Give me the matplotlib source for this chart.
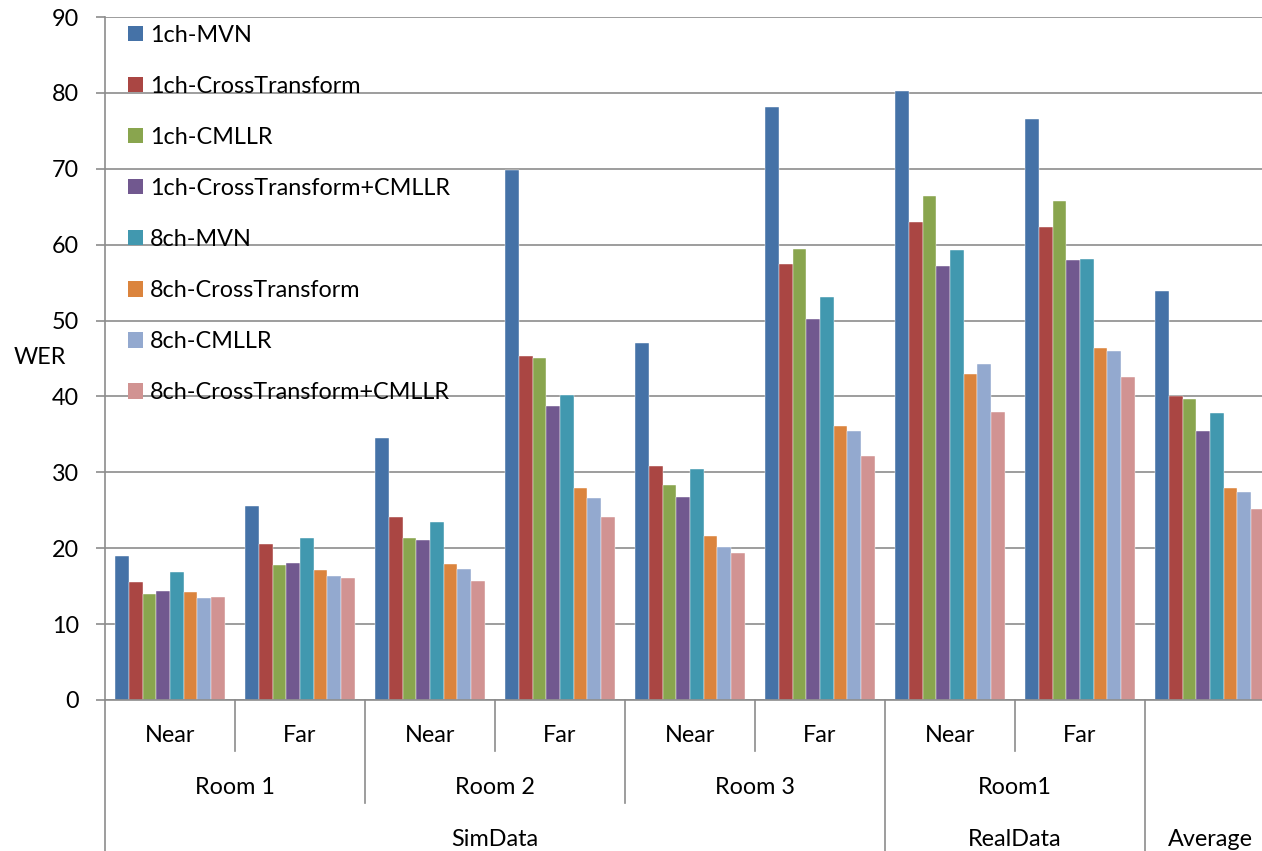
import numpy as np
import matplotlib
matplotlib.use("Agg")
import matplotlib.pyplot as plt
from matplotlib import transforms

plt.rcParams['font.family'] = ['Lato', 'DejaVu Sans']

# Word error rate per condition and method
conditions = ["SimData Room 1 Near", "SimData Room 1 Far",
              "SimData Room 2 Near", "SimData Room 2 Far",
              "SimData Room 3 Near", "SimData Room 3 Far",
              "RealData Room1 Near", "RealData Room1 Far", "Average"]
series_names = ["1ch-MVN", "1ch-CrossTransform", "1ch-CMLLR",
                "1ch-CrossTransform+CMLLR", "8ch-MVN", "8ch-CrossTransform",
                "8ch-CMLLR", "8ch-CrossTransform+CMLLR"]

ch1_mvn = [19.0, 25.5, 34.5, 69.8, 47.0, 78.2, 80.2, 76.5, 53.9]
ch1_cross = [15.5, 20.6, 24.1, 45.3, 30.8, 57.5, 63.0, 62.3, 40.0]
ch1_cmllr = [14.0, 17.8, 21.3, 45.1, 28.3, 59.4, 66.4, 65.8, 39.7]
ch1_cross_cmllr = [14.4, 18.1, 21.1, 38.7, 26.7, 50.2, 57.2, 58.0, 35.5]
ch8_mvn = [16.9, 21.3, 23.5, 40.2, 30.4, 53.1, 59.3, 58.1, 37.8]
ch8_cross = [14.2, 17.1, 17.9, 27.9, 21.6, 36.1, 43.0, 46.4, 28.0]
ch8_cmllr = [13.5, 16.3, 17.3, 26.6, 20.1, 35.5, 44.3, 46.0, 27.4]
ch8_cross_cmllr = [13.6, 16.1, 15.7, 24.1, 19.4, 32.2, 38.0, 42.5, 25.2]

series_values = [ch1_mvn, ch1_cross, ch1_cmllr, ch1_cross_cmllr,
                 ch8_mvn, ch8_cross, ch8_cmllr, ch8_cross_cmllr]

distance_labels = ["Near", "Far", "Near", "Far", "Near", "Far", "Near", "Far"]
room_labels = ["Room 1", "Room 2", "Room 3", "Room1"]
set_labels = ["SimData", "RealData", "Average"]
y_ticks = [0, 10, 20, 30, 40, 50, 60, 70, 80, 90]

colors = ["#4572A7", "#AA4643", "#89A54E", "#71588F",
          "#4198AF", "#DB843D", "#93A9CF", "#D19392"]
grid_color = "#8C8C8C"
fs = 16.8

W, H = 1262, 851
fig = plt.figure(figsize=(W / 100, H / 100), dpi=100)
# axes spans 9 categories of 130 px starting at x=105; right end falls past the canvas
ax = fig.add_axes([105 / W, (H - 700) / H, 1170 / W, 683 / H])

x = np.arange(len(conditions))
n = len(series_values)
bw = 0.8385 / n
for j, (name, vals, c) in enumerate(zip(series_names, series_values, colors)):
    ax.bar(x + (j - (n - 1) / 2) * bw, vals, width=bw, color=c,
           edgecolor="#ffffff", linewidth=0.3, label=name, zorder=2)

ax.set_xlim(-0.5, len(conditions) - 0.5)
ax.set_ylim(0, 90)
ax.set_yticks(y_ticks)
ax.yaxis.grid(True, color=grid_color, linewidth=1.2, zorder=0)
ax.set_axisbelow(True)
ax.tick_params(axis='y', direction='out', length=6.5, width=1.2,
               color=grid_color, labelsize=fs, pad=12)
ax.tick_params(axis='x', bottom=False, labelbottom=False)
for side in ["top", "right"]:
    ax.spines[side].set_visible(False)
for side in ["left", "bottom"]:
    ax.spines[side].set_color(grid_color)
    ax.spines[side].set_linewidth(1.2)

fig.text(39.5 / W, (H - 357) / H, "WER", fontsize=fs, ha="center", va="center")

# hierarchical category axis
tr = transforms.blended_transform_factory(ax.transData, fig.transFigure)
fy = lambda py: (H - py) / H
for b in [0.5, 2.5, 4.5, 6.5]:
    ax.plot([b, b], [fy(700), fy(751)], transform=tr, color=grid_color,
            lw=1.2, clip_on=False)
for b in [1.5, 3.5]:
    ax.plot([b, b], [fy(700), fy(803)], transform=tr, color=grid_color,
            lw=1.2, clip_on=False)
for b in [-0.5, 5.5, 7.5]:
    ax.plot([b, b], [fy(700), fy(851)], transform=tr, color=grid_color,
            lw=1.2, clip_on=False)

for i, lab in enumerate(distance_labels):
    ax.text(i, fy(735), lab, transform=tr, fontsize=fs, ha="center", va="center")
for k, lab in enumerate(room_labels):
    ax.text(2 * k + 0.5, fy(788), lab, transform=tr, fontsize=fs,
            ha="center", va="center")
for cx, lab in zip([2.5, 6.5, 8.0], set_labels):
    ax.text(cx, fy(840), lab, transform=tr, fontsize=fs, ha="center", va="center")

leg = ax.legend(loc="upper left", bbox_to_anchor=(128 / W, fy(24.5)),
                bbox_transform=fig.transFigure, frameon=False, fontsize=fs,
                handlelength=0.64, handleheight=0.64, handletextpad=0.3,
                labelspacing=1.29, borderpad=0, borderaxespad=0)
for h in leg.legend_handles:
    h.set_linewidth(0)

fig.savefig("out.png", dpi=100)
